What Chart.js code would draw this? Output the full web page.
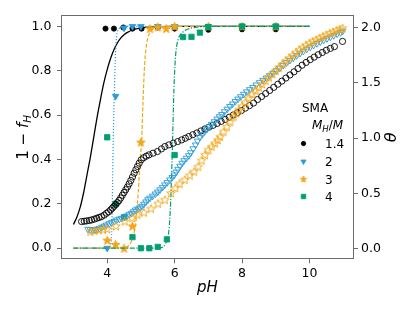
<!DOCTYPE html>
<html>
<head>
<meta charset="utf-8">
<script src="https://cdn.jsdelivr.net/npm/chart.js@4.4.1/dist/chart.umd.min.js"></script>
<style>
  body { margin: 0; background: #fff; }
  canvas { display: block; }
</style>
</head>
<body>
<canvas id="titration" width="415" height="312"></canvas>
<script>
// ---- data ----
const seriesLabels = ["1.4", "2", "3", "4"];
const pHTicks = [4, 6, 8, 10];
const fracTicks = [0, 0.2, 0.4, 0.6, 0.8, 1.0];
const thetaTicks = [0, 0.5, 1.0, 1.5, 2.0];

// 1 - f_H, filled markers
const pH14 = [3.95, 4.2, 4.48, 4.75, 5.02, 5.5, 6.0, 7.0, 8.0, 9.0];
const frac14 = [0.99, 0.99, 0.995, 0.99, 0.99, 0.995, 0.99, 0.985, 0.987, 0.987];
const pH2 = [4.0, 4.25, 4.5, 4.75, 5.0, 5.5, 6.0, 7.0, 8.0, 9.0];
const frac2 = [0.0, 0.685, 0.993, 1.0, 1.0, 1.0, 1.0, 1.0, 1.0, 1.0];
const pH3 = [4.0, 4.25, 4.5, 4.75, 5.0, 5.27, 5.5, 5.75, 6.0, 7.0, 8.0, 9.0];
const frac3 = [0.036, 0.017, 0.0, 0.1, 0.478, 0.99, 0.997, 0.99, 1.0, 1.0, 1.0, 1.0];
const pH4 = [4.0, 4.25, 4.5, 4.75, 5.0, 5.25, 5.5, 5.77, 6.0, 6.25, 6.5, 6.75, 7.0, 8.0, 9.0];
const frac4 = [0.5, 0.2, 0.14, 0.05, 0.0, 0.0, 0.006, 0.04, 0.42, 0.952, 0.953, 0.972, 0.997, 1.0, 1.0];

// fitted curves (1 - f_H)
const fitPH14 = [3.0, 3.1, 3.2, 3.3, 3.4, 3.5, 3.6, 3.7, 3.8, 3.9, 4.0, 4.1, 4.2, 4.3, 4.4, 4.5, 4.6, 4.8, 5.0, 5.3, 5.6, 6.0, 7.0, 8.0, 9.0, 10.0];
const fit14 = [0.107, 0.14, 0.185, 0.25, 0.33, 0.41, 0.5, 0.59, 0.67, 0.745, 0.805, 0.855, 0.895, 0.925, 0.947, 0.962, 0.973, 0.986, 0.993, 0.997, 0.999, 1.0, 1.0, 1.0, 1.0, 1.0];
const fitPH2 = [3.0, 3.5, 4.0, 4.08, 4.12, 4.14, 4.16, 4.18, 4.21, 4.24, 4.27, 4.3, 4.35, 4.45, 4.6, 5.0, 10.0];
const fit2 = [0, 0, 0.002, 0.012, 0.04, 0.1, 0.3, 0.5, 0.685, 0.85, 0.94, 0.975, 0.99, 0.998, 1.0, 1.0, 1.0];
const fitPH3 = [3.0, 4.0, 4.5, 4.6, 4.7, 4.78, 4.85, 4.92, 4.98, 5.02, 5.06, 5.1, 5.15, 5.22, 5.3, 5.4, 5.6, 6.0, 10.0];
const fit3 = [0, 0, 0.002, 0.008, 0.025, 0.06, 0.12, 0.25, 0.4, 0.48, 0.65, 0.8, 0.9, 0.955, 0.98, 0.993, 0.999, 1.0, 1.0];
const fitPH4 = [3.0, 5.0, 5.6, 5.7, 5.77, 5.83, 5.88, 5.92, 5.95, 5.98, 6.02, 6.06, 6.1, 6.16, 6.25, 6.4, 6.6, 7.0, 10.0];
const fit4 = [0, 0, 0.003, 0.012, 0.035, 0.08, 0.2, 0.38, 0.55, 0.72, 0.85, 0.91, 0.94, 0.96, 0.975, 0.988, 0.995, 1.0, 1.0];

// theta, open markers (right axis)
const thPH14 = [3.24, 3.32, 3.39, 3.47, 3.54, 3.62, 3.69, 3.76, 3.83, 3.91, 3.98, 4.04, 4.1, 4.15, 4.2, 4.25, 4.3, 4.35, 4.4, 4.45, 4.5, 4.55, 4.6, 4.65, 4.7, 4.75, 4.8, 4.85, 4.9, 4.95, 5.01, 5.08, 5.16, 5.24, 5.36, 5.49, 5.61, 5.71, 5.83, 5.96, 6.09, 6.21, 6.32, 6.42, 6.54, 6.66, 6.78, 6.9, 7.02, 7.14, 7.26, 7.38, 7.5, 7.62, 7.74, 7.86, 7.98, 8.1, 8.22, 8.34, 8.46, 8.58, 8.7, 8.82, 8.94, 9.06, 9.18, 9.3, 9.42, 9.54, 9.66, 9.78, 9.9, 10.02, 10.14, 10.26, 10.38, 10.5, 10.62, 10.74, 10.98];
const theta14 = [0.247, 0.25, 0.253, 0.257, 0.262, 0.269, 0.277, 0.284, 0.292, 0.305, 0.322, 0.335, 0.352, 0.368, 0.385, 0.4, 0.418, 0.437, 0.46, 0.485, 0.51, 0.535, 0.56, 0.588, 0.618, 0.65, 0.684, 0.715, 0.745, 0.775, 0.805, 0.824, 0.838, 0.85, 0.865, 0.88, 0.904, 0.925, 0.94, 0.955, 0.97, 0.985, 1.0, 1.016, 1.032, 1.048, 1.066, 1.084, 1.1, 1.117, 1.134, 1.152, 1.17, 1.19, 1.21, 1.23, 1.25, 1.272, 1.295, 1.318, 1.35, 1.377, 1.404, 1.432, 1.46, 1.488, 1.516, 1.544, 1.572, 1.6, 1.63, 1.66, 1.685, 1.71, 1.733, 1.755, 1.775, 1.795, 1.812, 1.828, 1.875];

const thPH2 = [3.43, 3.5, 3.57, 3.64, 3.7, 3.77, 3.84, 3.91, 3.98, 4.06, 4.13, 4.21, 4.28, 4.36, 4.43, 4.51, 4.58, 4.65, 4.72, 4.78, 4.84, 4.91, 4.97, 5.03, 5.09, 5.15, 5.21, 5.27, 5.35, 5.43, 5.5, 5.57, 5.64, 5.71, 5.78, 5.86, 5.93, 5.99, 6.05, 6.1, 6.16, 6.22, 6.28, 6.35, 6.42, 6.48, 6.55, 6.62, 6.68, 6.75, 6.82, 6.89, 6.96, 7.03, 7.1, 7.18, 7.26, 7.33, 7.4, 7.48, 7.56, 7.64, 7.72, 7.8, 7.88, 7.96, 8.05, 8.14, 8.23, 8.32, 8.42, 8.52, 8.62, 8.72, 8.82, 8.92, 9.02, 9.12, 9.22, 9.32, 9.42, 9.52, 9.62, 9.72, 9.82, 9.92, 10.02, 10.12, 10.22, 10.32, 10.42, 10.52, 10.62, 10.72, 10.82, 10.92, 10.98];
const theta2 = [0.178, 0.174, 0.172, 0.174, 0.178, 0.186, 0.196, 0.206, 0.217, 0.228, 0.238, 0.25, 0.262, 0.27, 0.277, 0.287, 0.298, 0.31, 0.322, 0.337, 0.352, 0.362, 0.372, 0.386, 0.405, 0.425, 0.445, 0.46, 0.478, 0.497, 0.515, 0.535, 0.557, 0.579, 0.6, 0.624, 0.646, 0.669, 0.695, 0.72, 0.748, 0.775, 0.798, 0.82, 0.843, 0.87, 0.905, 0.94, 0.975, 1.01, 1.035, 1.06, 1.083, 1.105, 1.127, 1.15, 1.174, 1.195, 1.215, 1.24, 1.264, 1.288, 1.31, 1.333, 1.355, 1.376, 1.398, 1.42, 1.44, 1.46, 1.482, 1.503, 1.524, 1.545, 1.566, 1.587, 1.61, 1.635, 1.66, 1.683, 1.705, 1.727, 1.748, 1.768, 1.787, 1.806, 1.824, 1.841, 1.857, 1.872, 1.887, 1.901, 1.915, 1.929, 1.943, 1.956, 1.968];

const thPH3 = [3.5, 3.62, 3.75, 3.88, 4.0, 4.26, 4.52, 4.74, 4.9, 5.09, 5.3, 5.51, 5.71, 5.89, 6.02, 6.15, 6.3, 6.45, 6.58, 6.7, 6.8, 6.9, 7.0, 7.1, 7.2, 7.28, 7.35, 7.45, 7.55, 7.65, 7.75, 7.83, 7.91, 8.0, 8.1, 8.2, 8.3, 8.4, 8.5, 8.6, 8.7, 8.8, 8.9, 9.0, 9.1, 9.2, 9.3, 9.4, 9.5, 9.6, 9.7, 9.8, 9.9, 10.0, 10.1, 10.2, 10.3, 10.4, 10.5, 10.6, 10.7, 10.8, 10.9, 10.98];
const theta3 = [0.157, 0.165, 0.172, 0.176, 0.18, 0.208, 0.25, 0.28, 0.31, 0.33, 0.365, 0.41, 0.445, 0.505, 0.55, 0.59, 0.625, 0.665, 0.7, 0.745, 0.8, 0.85, 0.895, 0.925, 0.955, 0.985, 1.015, 1.06, 1.105, 1.15, 1.196, 1.227, 1.258, 1.29, 1.325, 1.365, 1.4, 1.43, 1.46, 1.49, 1.52, 1.55, 1.58, 1.61, 1.64, 1.67, 1.7, 1.725, 1.75, 1.775, 1.8, 1.82, 1.84, 1.86, 1.875, 1.89, 1.905, 1.92, 1.935, 1.95, 1.96, 1.975, 1.985, 1.995];

// ---- styling ----
const BLACK = "#000000";
const BLUE = "#2a9bd7";
const ORANGE = "#f2a516";
const GREEN = "#009e73";
const SPINE = "#6b6b6b";
const FONT = '"DejaVu Sans", sans-serif';

function pts(xs, ys) {
    return xs.map((x, i) => ({ x: x, y: ys[i] }));
}

// matplotlib-like 5 point star as a small canvas
function starMarker(color, filled, outer) {
    const size = Math.ceil(outer * 2 + 3);
    const c = document.createElement("canvas");
    c.width = size;
    c.height = size;
    const g = c.getContext("2d");
    const cx = size / 2, cy = size / 2 + 0.4;
    g.beginPath();
    for (let i = 0; i < 10; i++) {
        const r = i % 2 ? outer * 0.42 : outer;
        const a = -Math.PI / 2 + i * Math.PI / 5;
        g.lineTo(cx + r * Math.cos(a), cy + r * Math.sin(a));
    }
    g.closePath();
    if (filled) {
        g.fillStyle = color;
        g.fill();
    }
    g.strokeStyle = color;
    g.lineWidth = 0.9;
    g.stroke();
    return c;
}

const starFilled = starMarker(ORANGE, true, 4.6);
const starOpen = starMarker(ORANGE, false, 4.5);
const starLegend = starMarker(ORANGE, true, 3.4);

function markers(data, axis, color, style, radius, filled, rotation) {
    return {
        data: data,
        yAxisID: axis,
        showLine: false,
        pointStyle: style,
        pointRadius: radius,
        pointRotation: rotation || 0,
        pointBorderColor: color,
        pointBackgroundColor: filled ? color : "rgba(0,0,0,0)",
        pointBorderWidth: filled ? 0.8 : 0.9
    };
}

function fitLine(data, color, dash, width) {
    return {
        data: data,
        yAxisID: "y",
        showLine: true,
        pointRadius: 0,
        borderColor: color,
        borderWidth: width,
        borderDash: dash,
        cubicInterpolationMode: "monotone",
        fill: false
    };
}

// bottom-to-top drawing order
const layers = [
    markers(pts(pH14, frac14), "y", BLACK, "circle", 2.6, true),
    fitLine(pts(fitPH14, fit14), BLACK, [], 1.3),
    markers(pts(pH2, frac2), "y", BLUE, "triangle", 3.8, true, 180),
    fitLine(pts(fitPH2, fit2), BLUE, [1.2, 1.8], 1.2),
    markers(pts(pH3, frac3), "y", ORANGE, starFilled, 4, true),
    fitLine(pts(fitPH3, fit3), ORANGE, [4, 1.8], 1.2),
    markers(pts(pH4, frac4), "y", GREEN, "rect", 3.8, true),
    fitLine(pts(fitPH4, fit4), GREEN, [5, 1.6, 1.2, 1.6], 1.2),
    markers(pts(thPH14, theta14), "y2", BLACK, "circle", 3.1, false),
    markers(pts(thPH2, theta2), "y2", BLUE, "triangle", 3.8, false, 180),
    markers(pts(thPH3, theta3), "y2", ORANGE, starOpen, 4, false)
];
layers.forEach((d, i) => { d.order = layers.length - i; });

function fixedTicks(values) {
    return scale => { scale.ticks = values.map(v => ({ value: v })); };
}

// draw a run of text pieces [text, font, dy] centred at 0
function drawPieces(ctx, pieces) {
    let total = 0;
    pieces.forEach(p => { ctx.font = p[1]; total += ctx.measureText(p[0]).width; });
    let x = -total / 2;
    pieces.forEach(p => {
        ctx.font = p[1];
        ctx.fillText(p[0], x, p[2]);
        x += ctx.measureText(p[0]).width;
    });
}

const decor = {
    id: "decor",
    afterDatasetsDraw(chart) {
        const { ctx, chartArea: a } = chart;
        ctx.save();

        // axes box
        ctx.strokeStyle = SPINE;
        ctx.lineWidth = 1;
        ctx.strokeRect(Math.round(a.left) + 0.5, Math.round(a.top) + 0.5,
            Math.round(a.right - a.left) - 1, Math.round(a.bottom - a.top) - 1);

        ctx.fillStyle = "#000";
        ctx.textBaseline = "alphabetic";

        // x title
        ctx.save();
        ctx.translate((a.left + a.right) / 2, 292);
        drawPieces(ctx, [["pH", "italic 15px " + FONT, 0]]);
        ctx.restore();

        // left title: 1 - f_H
        ctx.save();
        ctx.translate(28, (a.top + a.bottom) / 2);
        ctx.rotate(-Math.PI / 2);
        drawPieces(ctx, [
            ["1 \u2212 ", "15px " + FONT, 0],
            ["f", "italic 15px " + FONT, 0],
            ["H", "italic 10.5px " + FONT, 3]
        ]);
        ctx.restore();

        // right title: theta
        ctx.save();
        ctx.translate(396, (a.top + a.bottom) / 2);
        ctx.rotate(-Math.PI / 2);
        drawPieces(ctx, [["\u03b8", "italic 16px " + FONT, 0]]);
        ctx.restore();

        // legend
        ctx.textAlign = "left";
        ctx.font = "12px " + FONT;
        ctx.fillText("SMA", 302, 111.5);
        ctx.font = "italic 12px " + FONT;
        let x = 312;
        ctx.fillText("M", x, 128.5);
        x += ctx.measureText("M").width;
        ctx.font = "italic 8.5px " + FONT;
        ctx.fillText("H", x, 131.5);
        x += ctx.measureText("H").width;
        ctx.font = "12px " + FONT;
        ctx.fillText("/", x, 128.5);
        x += ctx.measureText("/").width;
        ctx.font = "italic 12px " + FONT;
        ctx.fillText("M", x, 128.5);

        const rows = [
            { y: 143.5, style: "circle", color: BLACK, r: 2.2, rot: 0 },
            { y: 161.5, style: "triangle", color: BLUE, r: 3.0, rot: 180 },
            { y: 179, style: starLegend, color: ORANGE, r: 3, rot: 0 },
            { y: 196.5, style: "rect", color: GREEN, r: 3.2, rot: 0 }
        ];
        rows.forEach((row, i) => {
            ctx.fillStyle = row.color;
            ctx.strokeStyle = row.color;
            ctx.lineWidth = 0.8;
            Chart.helpers.drawPoint(ctx, { pointStyle: row.style, radius: row.r, rotation: row.rot, borderWidth: 0.8 }, 303.5, row.y);
            ctx.fillStyle = "#000";
            ctx.font = "12px " + FONT;
            ctx.fillText(seriesLabels[i], 325, row.y + 4.5);
        });

        ctx.restore();
    }
};

const tickFont = { family: FONT, size: 12.5 };

new Chart(document.getElementById("titration"), {
    type: "scatter",
    data: { datasets: layers },
    options: {
        responsive: false,
        animation: false,
        layout: { padding: { top: 15.3, left: 0, right: 0, bottom: 0 } },
        plugins: { legend: { display: false }, tooltip: { enabled: false } },
        scales: {
            x: {
                type: "linear",
                min: 2.63,
                max: 11.32,
                afterBuildTicks: fixedTicks(pHTicks),
                afterFit: s => { s.height = 52.7; },
                border: { display: false },
                grid: { drawOnChartArea: false, tickLength: 4, tickColor: SPINE },
                ticks: { color: "#000", font: tickFont, padding: 3, callback: v => String(v) }
            },
            y: {
                type: "linear",
                position: "left",
                min: -0.05,
                max: 1.05,
                afterBuildTicks: fixedTicks(fracTicks),
                afterFit: s => { s.width = 61; },
                border: { display: false },
                grid: { drawOnChartArea: false, tickLength: 4, tickColor: SPINE },
                ticks: { color: "#000", font: tickFont, padding: 5.5, callback: v => v.toFixed(1) }
            },
            y2: {
                type: "linear",
                position: "right",
                min: -0.094,
                max: 2.111,
                afterBuildTicks: fixedTicks(thetaTicks),
                afterFit: s => { s.width = 61; },
                border: { display: false },
                grid: { drawOnChartArea: false, tickLength: 4, tickColor: SPINE },
                ticks: { color: "#000", font: tickFont, padding: 3, callback: v => v.toFixed(1) }
            }
        }
    },
    plugins: [decor]
});
</script>
</body>
</html>
